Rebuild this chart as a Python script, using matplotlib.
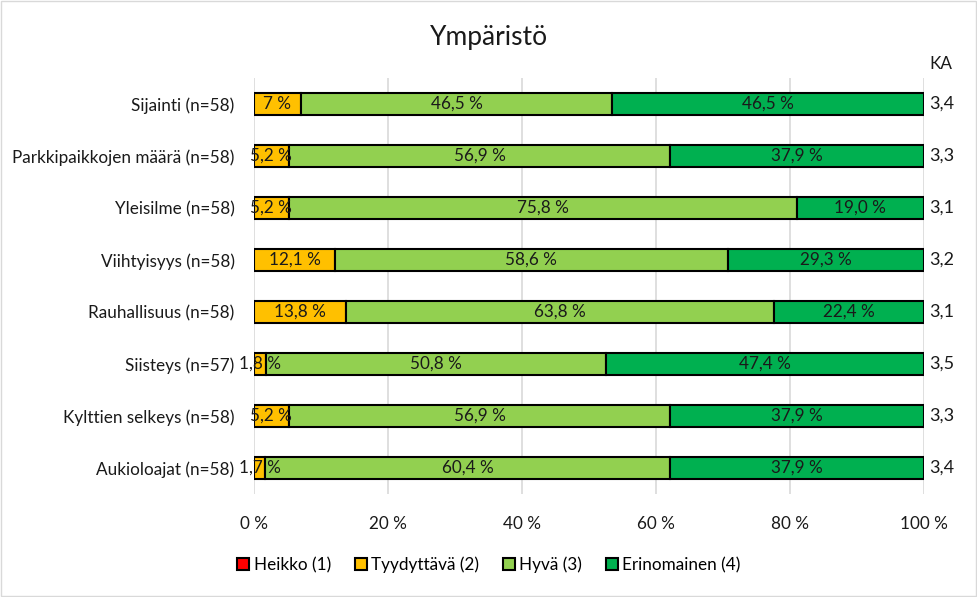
import numpy as np
import matplotlib
matplotlib.use("Agg")
import matplotlib.pyplot as plt
from matplotlib.patches import Rectangle

plt.rcParams['font.family'] = ['Lato', 'DejaVu Sans']

categories = ["Sijainti (n=58)", "Parkkipaikkojen määrä (n=58)", "Yleisilme (n=58)",
              "Viihtyisyys (n=58)", "Rauhallisuus (n=58)", "Siisteys (n=57)",
              "Kylttien selkeys (n=58)", "Aukioloajat (n=58)"]
heikko = [0, 0, 0, 0, 0, 0, 0, 0]
tyydyttava = [7, 5.2, 5.2, 12.1, 13.8, 1.8, 5.2, 1.7]
hyva = [46.5, 56.9, 75.8, 58.6, 63.8, 50.8, 56.9, 60.4]
erinomainen = [46.5, 37.9, 19.0, 29.3, 22.4, 47.4, 37.9, 37.9]
ka = ["3,4", "3,3", "3,1", "3,2", "3,1", "3,5", "3,3", "3,4"]

series = [("Heikko (1)", heikko, "#FF0000"),
          ("Tyydyttävä (2)", tyydyttava, "#FFC000"),
          ("Hyvä (3)", hyva, "#92D050"),
          ("Erinomainen (4)", erinomainen, "#00B050")]

fig = plt.figure(figsize=(9.78, 5.97), dpi=100)
ax = fig.add_axes([254/978, 1-494/597, 670/978, 416/597])

y = np.arange(len(categories))
left = np.zeros(len(categories))
for name, vals, col in series:
    vals = np.array(vals, dtype=float)
    ax.barh(y, vals, left=left, height=0.42, color=col, edgecolor="black",
            linewidth=1.5, label=name, zorder=3)
    for yi, l, v in zip(y, left, vals):
        if v > 0:
            txt = ("%.1f" % v).replace(".", ",") + " %"
            if v == 7:
                txt = "7 %"
            ax.text(l + v/2, yi, txt, ha="center", va="center", fontsize=12.3,
                    color="#1a1a1a", zorder=4)
    left += vals

ax.set_xlim(0, 100)
ax.set_ylim(len(categories) - 0.5, -0.5)
ax.set_yticks(y)
ax.set_yticklabels(categories, fontsize=12.3, color="#1a1a1a")
ax.set_xticks([0, 20, 40, 60, 80, 100])
ax.set_xticklabels(["0 %", "20 %", "40 %", "60 %", "80 %", "100 %"], fontsize=12.3, color="#1a1a1a")
ax.tick_params(axis="y", length=0, pad=14)
ax.tick_params(axis="x", length=0, pad=16)
ax.grid(axis="x", color="#D9D9D9", linewidth=1.2, zorder=0)
for s in ax.spines.values():
    s.set_visible(False)

for yi, k in zip(y, ka):
    ax.text(100.8, yi, k, ha="left", va="center", fontsize=13, color="#1a1a1a")
ax.text(100.8, -0.62, "KA", ha="left", va="bottom", fontsize=12.3, color="#1a1a1a")

fig.text(0.5, 1-37/597, "Ympäristö", ha="center", va="center", fontsize=19, color="#1a1a1a")

fig.legend(loc="center", bbox_to_anchor=(0.5, 1-565/597), ncol=4, frameon=False,
           fontsize=12.3, handlelength=0.7, handleheight=0.7, columnspacing=1.4,
           handletextpad=0.25)

fig.patches.append(Rectangle((0.001, 0.002), 0.997, 0.996, transform=fig.transFigure,
                             fill=False, edgecolor="#D9D9D9", linewidth=1))

fig.savefig("out.png", dpi=100)
